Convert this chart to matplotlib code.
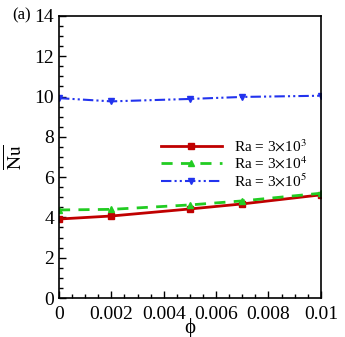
import numpy as np
import matplotlib.pyplot as plt
from matplotlib.ticker import MultipleLocator

# data
phi = [0, 0.002, 0.005, 0.007, 0.01]
nu_ra3 = [3.92, 4.07, 4.42, 4.67, 5.12]
nu_ra4 = [4.37, 4.40, 4.62, 4.82, 5.20]
nu_ra5 = [9.92, 9.76, 9.88, 9.98, 10.04]
labels = [r'Ra = 3$\times$10$^3$', r'Ra = 3$\times$10$^4$', r'Ra = 3$\times$10$^5$']
xticks = [0, 0.002, 0.004, 0.006, 0.008, 0.01]
xtick_labels = ['0', '0.002', '0.004', '0.006', '0.008', '0.01']

plt.rcParams['font.family'] = ['Liberation Serif', 'DejaVu Serif']
plt.rcParams['mathtext.fontset'] = 'stix'

fig = plt.figure(figsize=(3.45, 3.37), dpi=100)
ax = fig.add_axes([0.171, 0.1157, 0.759, 0.837])

ax.plot(phi, nu_ra3, color='#c00000', lw=2, marker='s', ms=4, label=labels[0])
ax.plot(phi, nu_ra4, color='#22cc22', lw=2, ls=(0, (4, 3)), marker='^', ms=5,
        label=labels[1])
ax.plot(phi, nu_ra5, color='#2233ee', lw=1.5, ls=(0, (5, 1.5, 1, 1.5, 1, 1.5)),
        marker='v', ms=4, label=labels[2])

ax.set_xlim(0, 0.01)
ax.set_ylim(0, 14)
ax.set_xticks(xticks)
ax.set_xticklabels(xtick_labels)
ax.xaxis.set_minor_locator(MultipleLocator(0.0005))
ax.yaxis.set_major_locator(MultipleLocator(2))
ax.yaxis.set_minor_locator(MultipleLocator(0.5))
ax.tick_params(which='both', direction='in', labelsize=14, width=1)
ax.tick_params(axis='x', pad=6)
ax.tick_params(which='major', length=5)
ax.tick_params(which='minor', length=3)
for s in ax.spines.values():
    s.set_linewidth(1.2)

ax.set_xlabel('ϕ', fontsize=15, labelpad=-4)
ax.set_ylabel(r'$\overline{\mathrm{Nu}}$', fontsize=14, labelpad=6)

ax.legend(loc='upper right', bbox_to_anchor=(1.0, 0.615), frameon=False,
          fontsize=11, handlelength=4.0, labelspacing=0.05, handletextpad=0.8)

fig.text(0.035, 0.955, '(a)', fontsize=12, va='center')

plt.savefig('out.png', dpi=100)
